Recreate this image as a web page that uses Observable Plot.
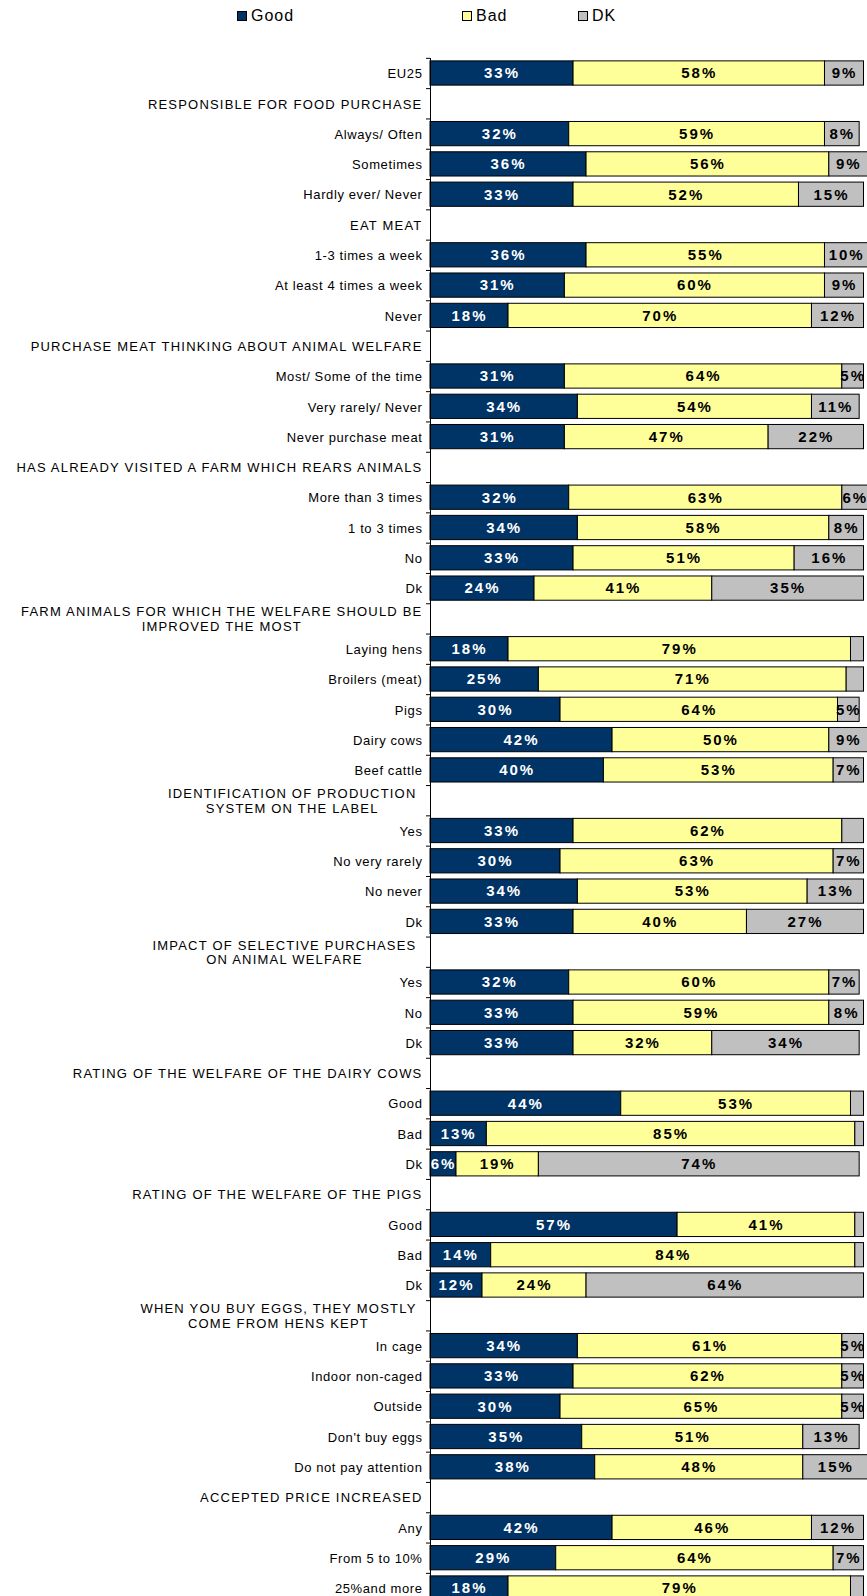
<!DOCTYPE html>
<html><head><meta charset="utf-8">
<script src="https://cdn.jsdelivr.net/npm/d3@7"></script>
<script src="https://cdn.jsdelivr.net/npm/@observablehq/plot@0.6"></script>
<style>
body{margin:0;background:#fff;font-family:"Liberation Sans",Arial,sans-serif;}
#legend{position:relative;height:32px;width:867px;}
.item{position:absolute;top:6px;display:flex;align-items:center;font-size:16px;letter-spacing:1px;color:#000;line-height:19px;}
.sw{width:8px;height:8px;border:1px solid #000;margin-right:4px;}
#chart svg{display:block;overflow:hidden;}
g[aria-label="text"]{letter-spacing:2px;}
</style></head><body>
<div id="legend"></div><div id="chart"></div>
<script>
const series = ["Good", "Bad", "DK"];
const colors = ["#003366", "#FFFF99", "#C0C0C0"];
const categories = [
"EU25",
"RESPONSIBLE FOR FOOD PURCHASE",
"Always/ Often","Sometimes","Hardly ever/ Never",
"EAT MEAT",
"1-3 times a week","At least 4 times a week","Never",
"PURCHASE MEAT THINKING ABOUT ANIMAL WELFARE",
"Most/ Some of the time","Very rarely/ Never","Never purchase meat",
"HAS ALREADY VISITED A FARM WHICH REARS ANIMALS",
"More than 3 times","1 to 3 times","No","Dk",
"FARM ANIMALS FOR WHICH THE WELFARE SHOULD BE\nIMPROVED THE MOST",
"Laying hens","Broilers (meat)","Pigs","Dairy cows","Beef cattle",
"IDENTIFICATION OF PRODUCTION\nSYSTEM ON THE LABEL",
"Yes","No very rarely","No never","Dk",
"IMPACT OF SELECTIVE PURCHASES\nON ANIMAL WELFARE",
"Yes","No","Dk",
"RATING OF THE WELFARE OF THE DAIRY COWS",
"Good","Bad","Dk",
"RATING OF THE WELFARE OF THE PIGS",
"Good","Bad","Dk",
"WHEN YOU BUY EGGS, THEY MOSTLY\nCOME FROM HENS KEPT",
"In cage","Indoor non-caged","Outside","Don't buy eggs","Do not pay attention",
"ACCEPTED PRICE INCREASED",
"Any","From 5 to 10%","25%and more"];
const good = [33,null,32,36,33,null,36,31,18,null,31,34,31,null,32,34,33,24,null,18,25,30,42,40,null,33,30,34,33,null,32,33,33,null,44,13,6,null,57,14,12,null,34,33,30,35,38,null,42,29,18];
const bad  = [58,null,59,56,52,null,55,60,70,null,64,54,47,null,63,58,51,41,null,79,71,64,50,53,null,62,63,53,40,null,60,59,32,null,53,85,19,null,41,84,24,null,61,62,65,51,48,null,46,64,79];
const dk   = [9,null,8,9,15,null,10,9,12,null,5,11,22,null,6,8,16,35,null,3,4,5,9,7,null,5,7,13,27,null,7,8,34,null,3,2,74,null,2,2,64,null,5,5,5,13,15,null,12,7,3];
// rows whose DK percentage is drawn without a label
const unlabelledDK = [25];

// legend
const legendLeft = [237, 462, 578];
const legendEl = document.getElementById("legend");
series.forEach((s, k) => {
  const it = document.createElement("div");
  it.className = "item";
  it.style.left = legendLeft[k] + "px";
  const sw = document.createElement("div");
  sw.className = "sw";
  sw.style.background = colors[k];
  it.append(sw, document.createTextNode(s));
  legendEl.append(it);
});

const rows = [];
categories.forEach((c, i) => {
  if (good[i] == null) return;
  [good[i], bad[i], dk[i]].forEach((v, k) => rows.push({idx: i, series: series[k], value: v}));
});
const showLabel = d => d.series !== "DK" || (d.value >= 5 && !unlabelledDK.includes(d.idx));
const idx = d3.range(categories.length);
const step = 30.3, y0 = 25.85;

const chart = Plot.plot({
  width: 867, height: 1564,
  marginLeft: 430, marginRight: 3.5, marginTop: 26, marginBottom: 0,
  style: {fontFamily: '"Liberation Sans", Arial, sans-serif', fontSize: "13px", color: "#000", background: "#fff"},
  x: {domain: [0, 100], axis: null},
  y: {domain: idx, range: [y0, y0 + step * idx.length], paddingInner: 0.2, paddingOuter: 0.1, round: false, axis: null},
  color: {domain: series, range: colors},
  marks: [
    Plot.barX(rows, {y: "idx", x: "value", fill: "series", stroke: "#000", strokeWidth: 1}),
    Plot.text(rows, Plot.stackX({y: "idx", x: "value", text: d => d.series === "Good" ? d.value + "%" : null, fill: "#fff", fontWeight: "bold", fontSize: 15})),
    Plot.text(rows, Plot.stackX({y: "idx", x: "value", text: d => d.series !== "Good" && showLabel(d) ? d.value + "%" : null, fill: "#000", fontWeight: "bold", fontSize: 15})),
    Plot.ruleX([0], {stroke: "#000"}),
    Plot.axisY(idx, {tickSize: 4, fill: "none", dy: -step / 2, stroke: "#000", label: null}),
    Plot.axisY(idx, {tickSize: 0, tickPadding: 8, tickFormat: i => categories[i], lineHeight: 1.15, fontSize: 13, fill: "#000", label: null})
  ]
});
document.getElementById("chart").append(chart);
// spacing of the tick labels; centre the lines of wrapped labels within their block
chart.querySelectorAll('g[aria-label="y-axis tick label"] text').forEach((t, i) => {
  t.style.letterSpacing = good[i] == null ? "1.2px" : "0.6px";
  const spans = t.querySelectorAll("tspan");
  if (spans.length > 1) {
    const b = t.getBBox();
    const cx = b.x + b.width / 2 - (b.width < 380 ? 6 : 0);
    t.setAttribute("text-anchor", "middle");
    spans.forEach(s => s.setAttribute("x", cx));
  }
});
</script></body></html>
